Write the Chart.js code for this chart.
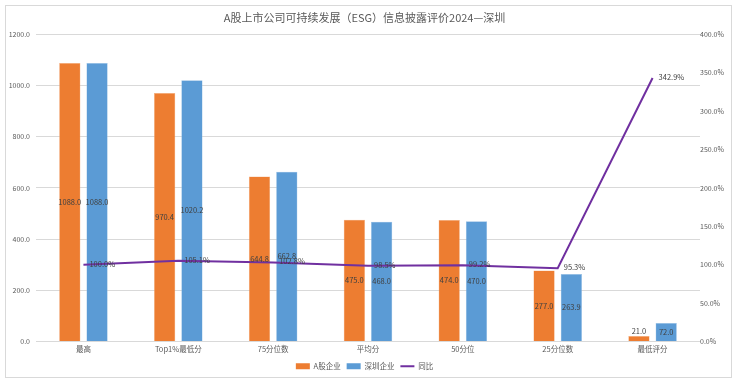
<!DOCTYPE html>
<html>
<head>
<meta charset="utf-8">
<script src="https://cdn.jsdelivr.net/npm/chart.js@4.4.1/dist/chart.umd.min.js"></script>
<style>
  html, body { margin: 0; padding: 0; background: #fff; }
  #wrap { width: 737px; height: 384px; position: relative; }
</style>
</head>
<body>
<div id="wrap"><canvas id="c" width="737" height="384"></canvas></div>
<script>
// values
const categories = ['最高', 'Top1%最低分', '75分位数', '平均分', '50分位', '25分位数', '最低评分']
const aShare = [1088.0, 970.4, 644.8, 475.0, 474.0, 277.0, 21.0]
const shenzhen = [1088.0, 1020.2, 662.8, 468.0, 470.0, 263.9, 72.0]
const yoy = [100.0, 105.1, 102.8, 98.5, 99.2, 95.3, 342.9]

const FONT = '"Noto Sans CJK SC", "Noto Sans", sans-serif'
const ORANGE = '#ED7D31'
const BLUE = '#5B9BD5'
const PURPLE = '#7030A0'

Chart.defaults.font.family = FONT
Chart.defaults.color = '#595959'

// frame around the whole chart + value labels
const framePlugin = {
  id: 'frame',
  beforeDraw(chart) {
    const ctx = chart.ctx
    ctx.save()
    ctx.fillStyle = '#fff'
    ctx.fillRect(0, 0, chart.width, chart.height)
    ctx.strokeStyle = '#d9d9d9'
    ctx.lineWidth = 1
    ctx.strokeRect(5.5, 5.5, 726, 372)
    ctx.restore()
  },
  afterDatasetsDraw(chart) {
    const ctx = chart.ctx
    ctx.save()
    ctx.font = '7.5px ' + FONT
    ctx.fillStyle = '#404040'
    ctx.textBaseline = 'middle'
    chart.data.datasets.forEach((ds, i) => {
      const meta = chart.getDatasetMeta(i)
      meta.data.forEach((el, j) => {
        const v = ds.data[j]
        if (ds.type === 'line') {
          ctx.textAlign = 'left'
          ctx.fillText(v.toFixed(1) + '%', el.x + 6, el.y - 1)
        } else {
          ctx.textAlign = 'center'
          const h = el.base - el.y
          const y = h < 14 ? el.y - 5 : (el.y + el.base) / 2
          ctx.fillText(v.toFixed(1), el.x, y)
        }
      })
    })
    ctx.restore()
  }
}

new Chart(document.getElementById('c').getContext('2d'), {
  data: {
    labels: categories,
    datasets: [
      {
        type: 'line',
        label: '同比',
        data: yoy,
        yAxisID: 'y1',
        borderColor: PURPLE,
        backgroundColor: PURPLE,
        borderWidth: 2,
        pointRadius: 0,
        tension: 0,
        order: 0
      },
      {
        type: 'bar',
        label: 'A股企业',
        data: aShare,
        yAxisID: 'y',
        backgroundColor: ORANGE,
        borderColor: '#f4b183',
        borderWidth: 0.5,
        categoryPercentage: 0.575,
        barPercentage: 0.78,
        order: 1
      },
      {
        type: 'bar',
        label: '深圳企业',
        data: shenzhen,
        yAxisID: 'y',
        backgroundColor: BLUE,
        borderColor: '#9dc3e6',
        borderWidth: 0.5,
        categoryPercentage: 0.575,
        barPercentage: 0.78,
        order: 1
      }
    ]
  },
  options: {
    responsive: false,
    animation: false,
    layout: { padding: { left: 0, right: 8, top: 7, bottom: 4 } },
    plugins: {
      title: {
        display: true,
        text: 'A股上市公司可持续发展（ESG）信息披露评价2024—深圳',
        color: '#595959',
        font: { size: 11, weight: 'normal', family: FONT },
        padding: { top: 4, bottom: 10 }
      },
      legend: {
        position: 'bottom',
        labels: {
          usePointStyle: true,
          pointStyleWidth: 14,
          boxHeight: 6,
          padding: 6,
          color: '#595959',
          font: { size: 7.5, family: FONT },
          sort: (a, b) => {
            const order = ['A股企业', '深圳企业', '同比']
            return order.indexOf(a.text) - order.indexOf(b.text)
          },
          generateLabels(chart) {
            const items = Chart.defaults.plugins.legend.labels.generateLabels(chart)
            items.forEach(it => {
              const ds = chart.data.datasets[it.datasetIndex]
              if (ds.type === 'line') {
                it.pointStyle = 'line'
                it.lineWidth = 2
                it.strokeStyle = PURPLE
              } else {
                it.pointStyle = 'rect'
                it.lineWidth = 0
                it.fillStyle = ds.backgroundColor
              }
            })
            return items
          }
        }
      },
      tooltip: { enabled: false }
    },
    scales: {
      x: {
        grid: { display: false, drawTicks: false },
        border: { display: false },
        ticks: { color: '#595959', font: { size: 7.5 }, padding: 3, maxRotation: 0, autoSkip: false }
      },
      y: {
        position: 'left',
        min: 0,
        max: 1200,
        afterFit: s => { s.width = 36 },
        grid: { color: '#d9d9d9', drawTicks: false },
        border: { display: false },
        ticks: {
          stepSize: 200,
          padding: 6,
          color: '#595959',
          font: { size: 7 },
          callback: v => v.toFixed(1)
        }
      },
      y1: {
        position: 'right',
        min: 0,
        max: 400,
        afterFit: s => { s.width = 29 },
        grid: { display: false, drawTicks: false },
        border: { display: false },
        ticks: {
          stepSize: 50,
          padding: 0,
          color: '#595959',
          font: { size: 7 },
          callback: v => v.toFixed(1) + '%'
        }
      }
    }
  },
  plugins: [framePlugin]
})
</script>
</body>
</html>
